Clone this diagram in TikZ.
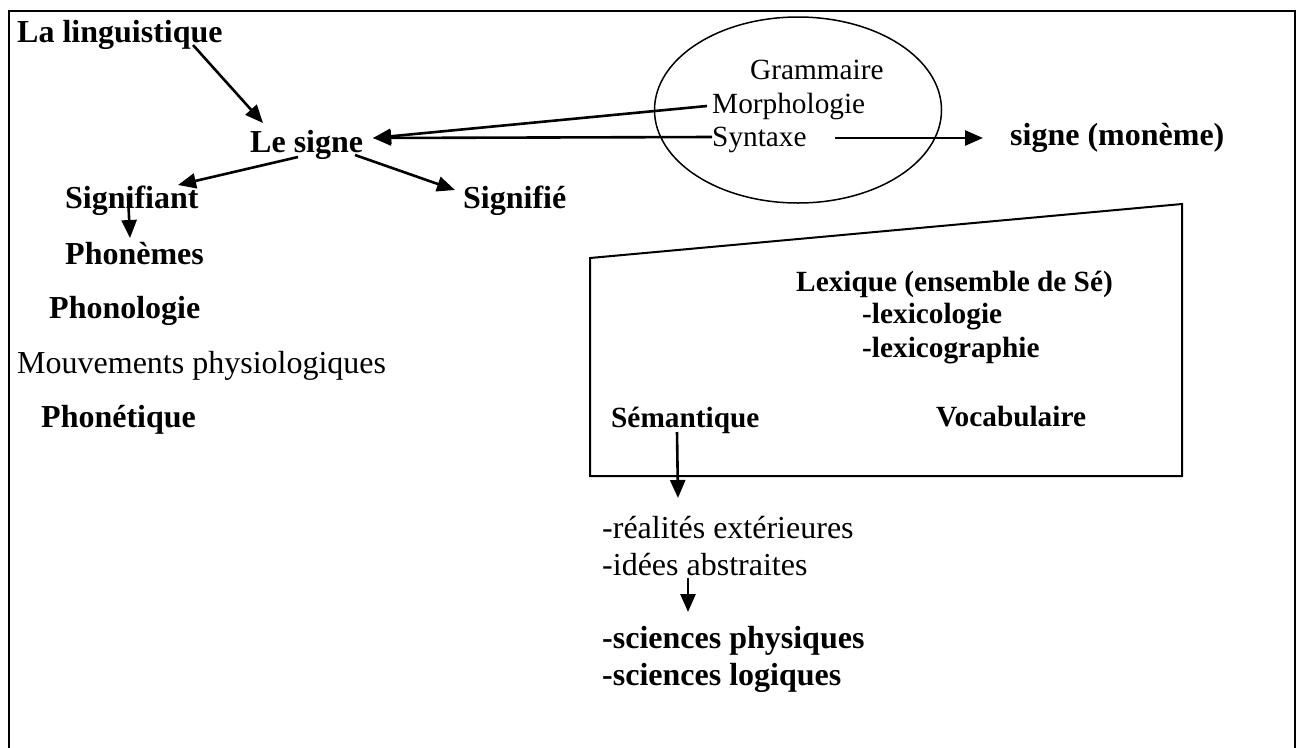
\documentclass[tikz,border=0pt]{standalone}
\usepackage{fontspec}
\setmainfont{Liberation Serif}
\usetikzlibrary{arrows.meta,shapes.geometric}
\begin{document}
\begin{tikzpicture}[x=1pt,y=-1pt,
  bb/.style={anchor=base west,inner sep=0pt,font=\fontsize{32}{38}\selectfont\bfseries},
  br/.style={anchor=base west,inner sep=0pt,font=\fontsize{32}{38}\selectfont},
  sb/.style={anchor=base west,inner sep=0pt,font=\fontsize{29.3}{35}\selectfont\bfseries},
  sr/.style={anchor=base west,inner sep=0pt,font=\fontsize{29.3}{35}\selectfont},
  arr/.style={line width=2.6pt,-{Triangle[length=18pt,width=15pt]}},
  frameline/.style={line width=2.7pt},
  boxline/.style={line width=2pt},
  ellline/.style={line width=1.5pt}]
\useasboundingbox (0,0) rectangle (1300,747);
\clip (0,0) rectangle (1300,747);
\fill[white] (0,0) rectangle (1300,747);
% outer frame (open at the bottom)
\draw[frameline] (9,770) -- (9,11) -- (1295,11) -- (1295,770);

% left column
\node[bb] (ling) at (17,42) {La linguistique};
\node[bb] (signe) at (250,152) {Le signe};
\node[bb] (signifiant) at (65,208) {Signifiant};
\node[bb] (signifie) at (463,208) {Signifié};
\node[bb] (phonemes) at (65,264) {Phonèmes};
\node[bb] (phonologie) at (49,318) {Phonologie};
\node[br] (mouv) at (17,373) {Mouvements physiologiques};
\node[bb] (phonetique) at (41,427) {Phonétique};

% ellipse group
\node[draw,ellipse,ellline,minimum width=287pt,minimum height=186pt,inner sep=0pt] (gram) at (798,110) {};
\node[sr] (grammaire) at (750,79) {Grammaire};
\node[sr] (morph) at (712,113) {Morphologie};
\node[sr] (syntaxe) at (712,146) {Syntaxe};
\node[bb] (moneme) at (1010,145) {signe (monème)};

% lexical box
\draw[boxline] (590,258) -- (1182,204) -- (1182,476) -- (590,476) -- cycle;
\node[sb] (lexique) at (796,291) {Lexique (ensemble de Sé)};
\node[sb] (lexicologie) at (862,323) {-lexicologie};
\node[sb] (lexicographie) at (862,357) {-lexicographie};
\node[sb] (semantique) at (611,427) {Sémantique};
\node[sb] (vocabulaire) at (936,426) {Vocabulaire};

% below the box
\node[br] (realites) at (602,538) {-réalités extérieures};
\node[br] (idees) at (602,575) {-idées abstraites};
\node[bb] (physiques) at (602,648) {-sciences physiques};
\node[bb] (logiques) at (602,685) {-sciences logiques};

% connector end points
\coordinate (lingS) at (193,45);
\coordinate (signeT) at (263,123);
\coordinate (signeL) at (298,157);
\coordinate (signifiantT) at (178,185);
\coordinate (signeR) at (355,155);
\coordinate (signifieT) at (455,190);
\coordinate (signifiantB) at (128,195);
\coordinate (phonemesT) at (130,238);
\coordinate (morphS) at (707,106);
\coordinate (syntaxeS) at (712,137);
\coordinate (signeE) at (373,138);
\coordinate (syntaxeE) at (835,138);
\coordinate (monemeT) at (983,138);
\coordinate (semS) at (677,432);
\coordinate (realT) at (678,498);
\coordinate (ideesS) at (688,578);
\coordinate (physT) at (688,612);

\draw[arr] (lingS) -- (signeT);
\draw[arr] (signeL) -- (signifiantT);
\draw[arr] (signeR) -- (signifieT);
\draw[arr] (signifiantB) -- (phonemesT);
\draw[arr] (morphS) -- (signeE);
\draw[arr] (syntaxeS) -- (signeE);
\draw[arr] (syntaxeE) -- (monemeT);
\draw[arr] (semS) -- (realT);
\draw[arr] (ideesS) -- (physT);
\end{tikzpicture}
\end{document}
